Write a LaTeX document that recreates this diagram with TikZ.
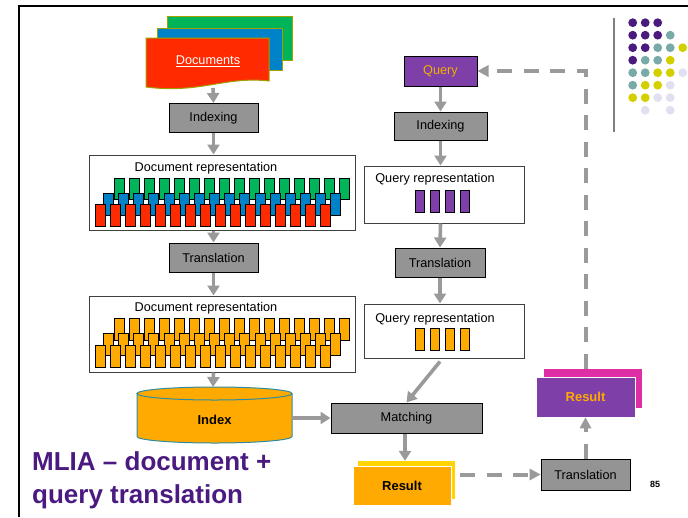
\documentclass[tikz,border=0pt]{standalone}
\usepackage{fontspec}
\setmainfont{Liberation Sans}
\usetikzlibrary{arrows.meta}

\definecolor{docred}{HTML}{FF2A00}
\definecolor{docblue}{HTML}{0082C8}
\definecolor{docgreen}{HTML}{00B45A}
\definecolor{sheetedge}{HTML}{A0A000}
\definecolor{blkorange}{HTML}{FFAA00}
\definecolor{qpurple}{HTML}{7F3FA8}
\definecolor{qtext}{HTML}{F0B000}
\definecolor{boxgray}{HTML}{949494}
\definecolor{arrgray}{HTML}{9A9A9A}
\definecolor{resmagenta}{HTML}{DE2EA6}
\definecolor{resyellow}{HTML}{FFD400}
\definecolor{titlepurple}{HTML}{4A1A80}
\definecolor{cyledge}{HTML}{2E8BA0}
\definecolor{dotP}{HTML}{4B1A7F}
\definecolor{dotT}{HTML}{7AAAA8}
\definecolor{dotY}{HTML}{D4D000}
\definecolor{dotL}{HTML}{E0E0F0}

\begin{document}
\begin{tikzpicture}[x=1pt,y=-1pt,
  every node/.style={font=\fontsize{12.7}{15}\selectfont, inner sep=0pt},
  graybox/.style={draw=black, line width=1pt, fill=boxgray, minimum width=#1, minimum height=29pt},
  reprbox/.style={draw=black!75, line width=1pt, fill=white},
  blk/.style={draw=black, line width=0.6pt},
  arr/.style={draw=arrgray, line width=3.6pt, -{Triangle[length=10pt,width=12pt]}},
  dasharr/.style={draw=arrgray, line width=4pt, dash pattern=on 15pt off 11.5pt},
  dot/.style={circle, minimum size=8.5pt, inner sep=0pt}
]
\useasboundingbox (0,0) rectangle (688,517);

% slide frame
\draw[line width=2pt] (19,517) -- (19,6) -- (688,6);
\draw[line width=2pt, black!50] (614,18) -- (614,132);

% decorative dot grid
\foreach \row/\cols in {0/{0/P,1/P,2/P}, 1/{0/P,1/P,2/P,3/T}, 2/{0/P,1/P,2/T,3/T,4/Y},
  3/{0/P,1/T,2/T,3/Y}, 4/{0/T,1/T,2/Y,3/Y,4/L}, 5/{0/T,1/Y,2/Y,3/L},
  6/{0/Y,1/Y,2/L,3/L}, 7/{1/L,3/L}}
  \foreach \c/\k in \cols
    \fill[dot\k] ({632.7+12.5*\c},{22.7+12.5*\row}) circle (4.4pt);

% stacked documents
\filldraw[fill=docgreen, draw=sheetedge, line width=1pt] (167,16) rectangle (292,60);
\filldraw[fill=docblue, draw=sheetedge, line width=1pt] (157,28) rectangle (282,70);
\filldraw[fill=docred, draw=sheetedge, line width=1pt]
  (146,38) -- (269,38) -- (269,81) .. controls (225,76) and (200,94) .. (146,87) -- cycle;
\node[text=white] (docs) at (208,61) {\underline{Documents}};
\coordinate (docsbot) at (213,88);

% document side
\node[graybox=89pt] (idxL) at (213.5,118) {Indexing};
\node[reprbox, minimum width=266pt, minimum height=75pt] (drA) at (222,192.5) {};
\node[anchor=base] (drAlbl) at (206,171) {Document representation};
\foreach \i in {0,...,15}
  \filldraw[blk, fill=docgreen] ({114.3+15*\i},178) rectangle ++(10,21);
\foreach \i in {0,...,15}
  \filldraw[blk, fill=docblue] ({103.3+15.15*\i},193) rectangle ++(10,22);
\foreach \i in {0,...,15}
  \filldraw[blk, fill=docred] ({95+15*\i},204) rectangle ++(10,22);

\node[graybox=89pt] (trL) at (213.5,257.5) {Translation};
\node[reprbox, minimum width=266pt, minimum height=76pt] (drB) at (222,334) {};
\node[anchor=base] (drBlbl) at (206,311.5) {Document representation};
\foreach \i in {0,...,15}
  \filldraw[blk, fill=blkorange] ({114.3+15*\i},318) rectangle ++(10,22);
\foreach \i in {0,...,15}
  \filldraw[blk, fill=blkorange] ({103.3+15.15*\i},333) rectangle ++(10,22);
\foreach \i in {0,...,15}
  \filldraw[blk, fill=blkorange] ({95+15*\i},345) rectangle ++(10,22);

% index cylinder
\node[minimum width=155pt, minimum height=56pt] (index) at (214.5,415) {};
\fill[blkorange] (137,393.5) -- (137,436.5)
  arc[start angle=180, end angle=0, x radius=77.5, y radius=6.5] -- (292,393.5)
  arc[start angle=0, end angle=180, x radius=77.5, y radius=6.5] -- cycle;
\draw[cyledge, line width=1pt] (137,393.5) -- (137,436.5)
  arc[start angle=180, end angle=0, x radius=77.5, y radius=6.5] -- (292,393.5);
\filldraw[fill=blkorange, draw=cyledge, line width=1pt] (214.5,393.5) ellipse [x radius=77.5, y radius=6.5];
\node[font=\fontsize{13}{15}\selectfont\bfseries] (indexlbl) at (214.5,420) {Index};

% query side
\node[draw=black, line width=1pt, fill=qpurple, text=qtext, minimum width=73pt, minimum height=30pt] (query) at (440.5,71) {Query};
\node[graybox=93pt, minimum height=28pt] (idxR) at (440.5,126) {Indexing};
\node[reprbox, minimum width=160pt, minimum height=57pt] (qrA) at (444,194.5) {};
\node[anchor=base] (qrAlbl) at (435,182) {Query representation};
\foreach \i in {0,...,3}
  \filldraw[blk, fill=qpurple] ({415+15*\i},190) rectangle ++(9.5,22);
\node[graybox=90pt] (trR) at (440,262.5) {Translation};
\node[reprbox, minimum width=160pt, minimum height=54pt] (qrB) at (444,331) {};
\node[anchor=base] (qrBlbl) at (435,322) {Query representation};
\foreach \i in {0,...,3}
  \filldraw[blk, fill=blkorange] ({415+15*\i},328) rectangle ++(9.5,22);

% matching and results
\node[graybox=151pt, minimum height=30pt] (match) at (406.5,418) {Matching};
\node[fill=resyellow, minimum width=97pt, minimum height=38pt] (resAback) at (406.5,480) {};
\node[draw=white, line width=0.8pt, fill=blkorange, minimum width=98pt, minimum height=39pt,
  font=\fontsize{13}{15}\selectfont\bfseries] (resA) at (402,485.5) {Result};
\node[graybox=89pt, minimum height=31pt] (trBR) at (585.5,474.5) {Translation};
\node[fill=resmagenta, minimum width=98pt, minimum height=39pt] (resBback) at (593,388.5) {};
\node[draw=white, line width=0.8pt, fill=qpurple, text=blkorange, minimum width=99pt, minimum height=40pt,
  font=\fontsize{13}{15}\selectfont\bfseries] (resB) at (585.5,397) {Result};

% solid flow arrows
\draw[arr] (docsbot) -- (idxL.north);
\draw[arr] (idxL.south) -- (idxL.south |- drA.north);
\draw[arr] (idxL.south |- drA.south) -- (trL.north);
\draw[arr] (trL.south) -- (trL.south |- drB.north);
\draw[arr] (trL.south |- drB.south) -- (213,387);
\draw[arr] (index.east |- match.west) -- (match.west);
\draw[arr] (query.south) -- (idxR.north);
\draw[arr] (idxR.south) -- (idxR.south |- qrA.north);
\draw[arr] (idxR.south |- qrA.south) -- (trR.north);
\draw[arr] (trR.south) -- (trR.south |- qrB.north);
\draw[arr] ([xshift=-4pt,yshift=-3pt]qrB.south) -- (match.north);
\draw[arr] ([xshift=-1.5pt]match.south) -- ([xshift=-1.5pt]match.south |- resAback.north);

% dashed feedback arrows
\draw[dasharr] ([xshift=5pt]resAback.east |- trBR.west) -- ([xshift=-10pt]trBR.west);
\fill[arrgray] (trBR.west) -- ++(-11,-6) -- ++(0,12) -- cycle;
\draw[dasharr] (trBR.north) -- ([yshift=-10pt]resB.south);
\fill[arrgray] (resB.south) -- ++(-6,11) -- ++(12,0) -- cycle;
\draw[dasharr] (resB.north |- resBback.north) -- (resB.north |- query.east) -- ([xshift=10pt]query.east);
\fill[arrgray] (query.east) -- ++(11,-6) -- ++(0,12) -- cycle;

% slide title and page number
\node[anchor=base west, text=titlepurple, font=\fontsize{26}{30}\selectfont\bfseries] (title1) at (32,470) {MLIA – document +};
\node[anchor=base west, text=titlepurple, font=\fontsize{26}{30}\selectfont\bfseries] (title2) at (32,503) {query translation};
\node[font=\fontsize{9}{11}\selectfont\bfseries] (pageno) at (655,484) {85};
\end{tikzpicture}
\end{document}
